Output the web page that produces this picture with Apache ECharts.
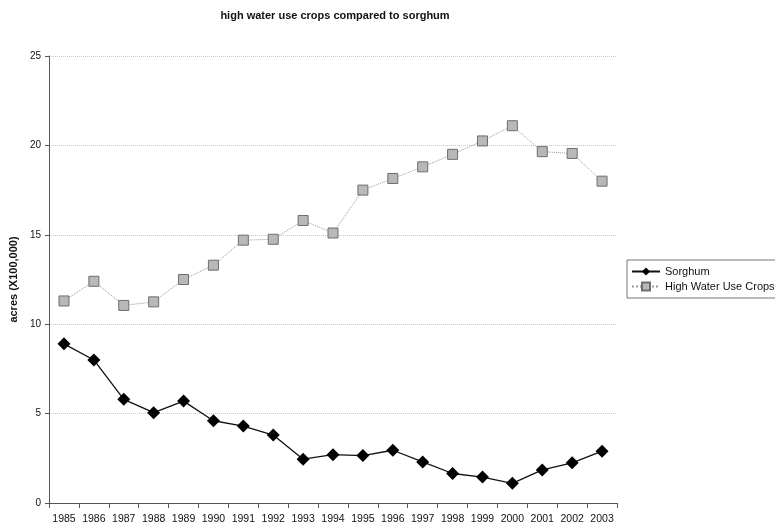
<!DOCTYPE html>
<html>
<head>
<meta charset="utf-8">
<title>high water use crops compared to sorghum</title>
<script src="https://cdn.jsdelivr.net/npm/echarts@6/dist/echarts.min.js"></script>
<style>
  html, body { margin: 0; padding: 0; background: #fff; }
  #chart { width: 775px; height: 527px; }
</style>
</head>
<body>
<div id="chart"></div>
<script>
// years on the x axis
var years = ['1985', '1986', '1987', '1988', '1989', '1990', '1991', '1992', '1993', '1994',
             '1995', '1996', '1997', '1998', '1999', '2000', '2001', '2002', '2003'];
// acres (X100,000)
var sorghum = [8.9, 8.0, 5.8, 5.05, 5.7, 4.6, 4.3, 3.8, 2.45, 2.7,
               2.65, 2.95, 2.3, 1.65, 1.45, 1.1, 1.85, 2.25, 2.9];
var highWater = [11.3, 12.4, 11.05, 11.25, 12.5, 13.3, 14.7, 14.75, 15.8, 15.1,
                 17.5, 18.15, 18.8, 19.5, 20.25, 21.1, 19.65, 19.55, 18.0];

var chart = echarts.init(document.getElementById('chart'));
var font = 'Liberation Sans, Arial, sans-serif';

chart.setOption({
    backgroundColor: '#fff',
    animation: false,
    title: {
        text: 'high water use crops compared to sorghum',
        left: 330, top: 5, textAlign: 'center',
        textStyle: { fontFamily: font, fontSize: 11, fontWeight: 'bold', color: '#111' }
    },
    legend: {
        orient: 'vertical',
        left: 627, top: 260,
        padding: [6, 30, 6, 4],
        itemGap: 4,
        itemWidth: 28, itemHeight: 10,
        borderColor: '#777', borderWidth: 1,
        textStyle: { fontFamily: font, fontSize: 11, color: '#111' },
        data: ['Sorghum', 'High Water Use Crops']
    },
    grid: { left: 49, right: 158, top: 56, bottom: 24 },
    xAxis: {
        type: 'category',
        data: years,
        boundaryGap: true,
        axisLine: { lineStyle: { color: '#555', width: 1 } },
        axisTick: { show: true, lineStyle: { color: '#555' } },
        axisLabel: { fontFamily: font, fontSize: 10.5, color: '#111', margin: 11, interval: 0 },
        splitLine: { show: false }
    },
    yAxis: {
        type: 'value',
        min: 0, max: 25, interval: 5,
        name: 'acres (X100,000)',
        nameLocation: 'middle',
        nameGap: 24,
        nameTextStyle: { fontFamily: font, fontSize: 11, fontWeight: 'bold', color: '#111' },
        axisLine: { show: true, lineStyle: { color: '#555', width: 1 } },
        axisTick: { show: true, length: 4, lineStyle: { color: '#555' } },
        axisLabel: { fontFamily: font, fontSize: 10, color: '#111', margin: 8 },
        splitLine: { show: true, lineStyle: { color: '#c8c8c8', type: 'dotted', width: 1 } }
    },
    series: [
        {
            name: 'Sorghum',
            type: 'line',
            data: sorghum,
            symbol: 'diamond',
            symbolSize: 13,
            itemStyle: { color: '#000' },
            lineStyle: { color: '#111', width: 1.3 },
            z: 3
        },
        {
            name: 'High Water Use Crops',
            type: 'line',
            data: highWater,
            symbol: 'rect',
            symbolSize: 10,
            itemStyle: { color: '#b8b8b8', borderColor: '#6e6e6e', borderWidth: 1 },
            lineStyle: { color: '#9a9a9a', width: 1, type: 'dotted' },
            z: 2
        }
    ]
});
</script>
</body>
</html>
